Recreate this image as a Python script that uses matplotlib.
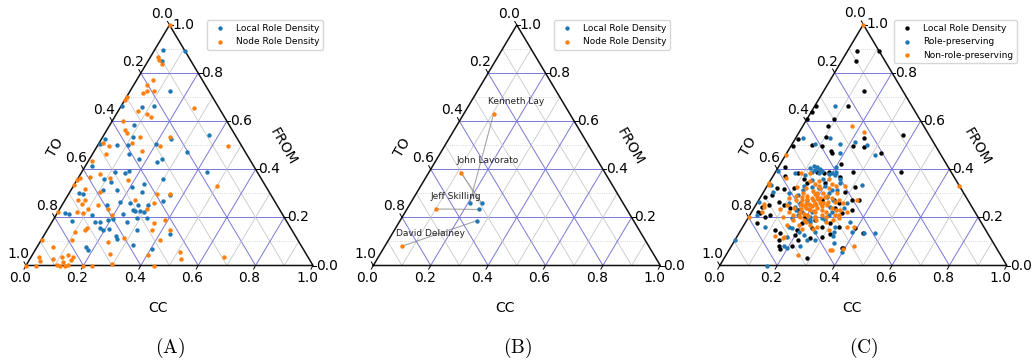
import numpy as np
import matplotlib.pyplot as plt

plt.rcParams['mathtext.fontset'] = 'cm'

BLUE = '#1f77b4'
ORANGE = '#ff7f0e'

# every row is (FROM, CC); TO = 1 - FROM - CC

# panel A
a_local = np.array([
    (.896, .030), (.851, .048), (.725, .139), (.657, .075), (.665, .114), (.6625, .002),
    (.583, .085), (.535, .106), (.524, .242), (.525, .013), (.500, .068), (.893, .107),
    (.543, .366), (.470, .325), (.390, .436), (.507, .006), (.504, .201), (.4625, .126),
    (.444, .173), (.431, .242), (.4125, .023), (.389, .115), (.386, .151), (.393, .161),
    (.361, .093), (.347, .121), (.340, .241), (.292, .356), (.301, .035), (.299, .050),
    (.3125, .113), (.3125, .160), (.326, .205), (.306, .252), (.250, .156), (.264, .196),
    (.260, .232), (.250, .266), (.229, .257), (.225, .268), (.225, .285), (.250, .301),
    (.218, .027), (.215, .042), (.185, .067), (.208, .125), (.181, .150), (.181, .168),
    (.1875, .193), (.192, .208), (.215, .232), (.181, .263), (.199, .286), (.222, .300),
    (.199, .323), (.157, .179), (.146, .196), (.153, .214), (.121, .253), (.111, .263),
    (.146, .313), (.132, .436), (.076, .171), (.0625, .186), (.069, .403), (.500, .107),
    (.444, .251), (.361, .298), (.268, .345), (.086, .329),
])
a_node = np.array([
    (1.0, 0.0), (.865, .028), (.854, .037), (.836, .055), (.771, .058), (.749, .048),
    (.725, .085), (.725, .058), (.718, .050), (.699, .003), (.6875, .002), (.643, .070),
    (.629, .106), (.618, .127), (.601, .037), (.5625, .063), (.553, .074), (.535, .130),
    (.535, .234), (.511, .014), (.655, .259), (.496, .457), (.332, .501), (.057, .509),
    (.025, .528), (.035, .672), (.496, .042), (.510, .113), (.465, .046), (.475, .168),
    (.435, .011), (.382, .067), (.368, .039), (.365, .006), (.365, .110), (.357, .178),
    (.333, 0.0), (.319, .046), (.306, .105), (.299, .306), (.274, .045), (.274, .069),
    (.257, .066), (.236, .099), (.250, .127), (.236, .169), (.271, .245), (.236, .302),
    (.222, .066), (.218, .088), (.208, .194), (.1875, .390), (.157, .133), (.146, .133),
    (.139, .101), (.104, .107), (.146, .365), (.146, .429), (.079, .055), (.097, .238),
    (.104, .415), (.018, .040), (.035, .107), (.042, .127), (.014, .123), (.004, .105),
    (0.0, .118), (0.0, .136), (.001, .147), (.035, .147), (0.0, .229), (.049, .268),
    (.007, .295), (.042, .405), (.108, .001), (.035, .029), (0.0, 0.0), (0.0, .035),
    (.222, 0.0), (0.0, .200), (.021, .145), (.115, .284), (0.0, .446), (.176, .358),
    (.497, .218), (.261, .316), (.296, .354), (.354, .002), (.028, .081),
])

# panel B
b_names = ['Kenneth Lay', 'John Lavorato', 'Jeff Skilling', 'David Delainey']
b_node = np.array([(.630, .104), (.384, .115), (.235, .102), (.080, .059)])
b_local = np.array([(.260, .206), (.259, .248), (.233, .253), (.187, .269)])

# panel C
c_local = np.array([
    (.892, .032), (.848, .049), (.724, .139), (.662, .116), (.662, .004), (.637, .002),
    (.607, .093), (.606, 0.0), (.578, .087), (.527, .238), (.535, .103), (.523, .010),
    (.888, .112), (.542, .367), (.468, .326), (.390, .438), (.497, .005), (.499, .071),
    (.476, .150), (.465, .160), (.495, .215), (.490, .256), (.371, .040), (.382, .081),
    (.389, .144), (.382, .171), (.389, .185), (.368, .236), (.320, .039), (.292, .035),
    (.316, .064), (.320, .097), (.357, .114), (.341, .133), (.341, .197), (.306, .284),
    (.327, .309), (.272, .348), (.244, .025), (.251, .045), (.265, .073), (.251, .097),
    (.237, .127), (.217, .033), (.200, .058), (.203, .197), (.237, .284), (.217, .318),
    (.230, .345), (.258, .287), (.175, .298), (.148, .119), (.134, .143), (.148, .195),
    (.127, .200), (.154, .244), (.161, .276), (.131, .320), (.161, .334), (.154, .395),
    (.079, .166), (.069, .176), (.079, .212), (.113, .259), (.120, .296), (.072, .390),
    (.497, .106), (.423, .211), (.386, .272), (.134, .431), (.072, .395), (.223, .022),
    (.178, .039), (.410, .022), (.175, .200), (.189, .238), (.286, .015), (.230, .159),
    (.272, .261), (.272, .220), (.030, .288), (.106, .152), (.210, .071), (.106, .221),
    (.272, .324),
])
c_pres = np.array([
    (.662, .071), (.531, .026), (.527, .121), (.459, .310), (.134, .473), (0.0, .166),
    (.106, 0.0), (.393, .007), (.334, .010), (.506, .080), (.503, .168), (.513, .216),
    (.499, .263), (.465, .186), (.412, .121), (.410, .133), (.396, .135), (.399, .150),
    (.389, .127), (.382, .153), (.393, .160), (.403, .114), (.382, .200), (.375, .215),
    (.343, .248), (.382, .072), (.375, .111), (.354, .144), (.306, .034), (.302, .091),
    (.313, .252), (.261, .109), (.244, .141), (.210, .024), (.196, .153), (.182, .224),
    (.189, .273), (.154, .174), (.137, .206), (.141, .262), (.141, .326), (.134, .434),
    (.081, .182), (.081, .240), (.106, .250), (.106, .280), (.092, .351), (.054, .399),
    (.223, .174), (.210, .169), (.210, .274), (.244, .263), (.286, .230), (.292, .128),
    (.313, .135), (.327, .157), (.320, .184), (.203, .231), (.196, .258), (.203, .213),
    (.189, .209), (.258, .151), (.313, .234), (.237, .313), (.258, .314), (.161, .322),
    (.127, .229), (.120, .174), (.161, .078), (.265, .003), (.182, .364), (.141, .390),
    (.334, .327), (.123, .334), (.072, .197), (.27, .17), (.22, .21), (.30, .23),
    (.23, .15), (.27, .26), (.33, .20), (.36, .18), (.36, .24), (.33, .13), (.22, .28),
    (.19, .22), (.16, .16), (.38, .19), (.39, .21), (.41, .20),
])
c_nonpres = np.array([
    (1.0, 0.0), (.579, .171), (.552, .226), (.331, .669), (.458, .001), (.343, 0.0),
    (.244, .033), (.200, 0.0), (.068, .396), (.065, .357), (.116, .163), (.161, .388),
    (.334, .003), (.255, .028), (.233, .094), (.327, .105), (.320, .140), (.123, .132),
    (.120, .162), (.148, .305), (.159, .364), (.065, .353), (.079, .427), (.044, .252),
    (.382, .093), (.382, .124), (.361, .050), (.265, .270), (.210, .295), (.196, .316),
    (.230, .305), (.223, .332), (.272, .342), (.223, .036),
    (.25, .19), (.26, .20), (.24, .18), (.25, .21), (.26, .17), (.23, .20), (.27, .19),
    (.24, .22), (.25, .16), (.28, .18), (.28, .21), (.26, .23), (.27, .15), (.21, .20),
    (.22, .17), (.22, .22), (.23, .24), (.30, .19), (.29, .16), (.30, .21), (.29, .23),
    (.25, .25), (.24, .14), (.20, .18), (.19, .20), (.20, .23), (.22, .26), (.21, .15),
    (.31, .17), (.32, .19), (.32, .22), (.27, .13), (.28, .25), (.24, .27), (.19, .24),
    (.18, .21), (.19, .16), (.33, .18), (.30, .14), (.30, .26), (.245, .20), (.255, .185),
    (.235, .195), (.245, .175), (.275, .205), (.265, .215), (.275, .165), (.255, .225),
    (.215, .185), (.285, .195), (.255, .155), (.245, .235), (.205, .205), (.205, .175),
    (.225, .215), (.265, .245), (.235, .165), (.285, .225), (.295, .185), (.285, .145),
    (.21, .25), (.27, .28), (.20, .27), (.29, .12), (.22, .13), (.23, .29), (.34, .22),
    (.35, .17), (.36, .20), (.33, .24), (.26, .30), (.18, .28), (.17, .23), (.17, .19),
    (.17, .15), (.25, .11), (.16, .26), (.21, .31), (.34, .16), (.15, .21), (.19, .30),
    (.15, .25), (.20, .12), (.28, .10), (.35, .14), (.33, .27),
])

ticks = [0.0, 0.2, 0.4, 0.6, 0.8, 1.0]
H = np.sqrt(3) / 2


def proj(frm, cc):
    frm = np.asarray(frm, float)
    cc = np.asarray(cc, float)
    return cc + frm / 2, frm * H


def draw_frame(ax):
    for k in range(1, 10):
        v = k / 10
        major = k % 2 == 0
        col = '#7878d8' if major else '#c8c8c8'
        lw = 0.7 if major else 0.6
        x, y = proj([v, v], [0, 1 - v])
        ax.plot(x, y, color=col, lw=lw, ls='-' if major else ':', zorder=1)
        x, y = proj([0, 1 - v], [v, v])
        ax.plot(x, y, color=col, lw=lw, zorder=1)
        x, y = proj([0, 1 - v], [1 - v, 0])
        ax.plot(x, y, color=col, lw=lw, zorder=1)
    x, y = proj([0, 0, 1, 0], [0, 1, 0, 0])
    ax.plot(x, y, color='#111111', lw=1.1, zorder=2, solid_joinstyle='miter')

    for v in ticks:
        lab = f'{v:.1f}'
        x, y = proj(0, v)
        ax.plot([x, x - 0.007], [y, y - 0.013], color='k', lw=0.7)
        ax.text(x - 0.021, y - 0.045, lab, ha='center', va='center', fontsize=10)
        x, y = proj(v, 1 - v)
        ax.plot([x, x + 0.012], [y, y], color='k', lw=0.7)
        ax.text(x + 0.01, y, lab, ha='left', va='center', fontsize=10)
        x, y = proj(1 - v, 0)
        ax.plot([x, x - 0.007], [y, y + 0.013], color='k', lw=0.7)
        ax.text(x - 0.027, y + 0.040, lab, ha='center', va='center', fontsize=10)

    ax.text(0.46, -0.152, 'CC', ha='center', va='center', fontsize=10)
    ax.text(0.101, 0.426, 'TO', ha='center', va='center', fontsize=10, rotation=60)
    ax.text(0.896, 0.427, 'FROM', ha='center', va='center', fontsize=10, rotation=-60)


def dots(ax, data, color, label):
    x, y = proj(data[:, 0], data[:, 1])
    ax.scatter(x, y, s=10, color=color, linewidths=0, label=label, zorder=3, clip_on=False)


fig = plt.figure(figsize=(10.32, 3.6), dpi=100)
origins = [26.0, 373.3, 719.8]
tops = [25.0, 25.0, 24.5]
base = 265.5
legend_right = [323, 670, 1017]
panel_names = ['A', 'B', 'C']
axes = []
for i in range(3):
    ax = fig.add_axes([i * 344 / 1032, 0, 344 / 1032, 1])
    sx = 287.0
    sy = (base - tops[i]) / H
    ax.set_xlim((344 * i - origins[i]) / sx, (344 * (i + 1) - origins[i]) / sx)
    ax.set_ylim(-(360 - base) / sy, base / sy)
    ax.axis('off')
    draw_frame(ax)
    axes.append(ax)
    fig.text((origins[i] + 144) / 1032, 12 / 360, r'$\mathrm{(' + panel_names[i] + ')}$',
             ha='center', va='center', fontsize=14)

ax = axes[0]
dots(ax, a_local, BLUE, 'Local Role Density')
dots(ax, a_node, ORANGE, 'Node Role Density')

ax = axes[1]
for n, l in zip(b_node, b_local):
    x, y = proj([n[0], l[0]], [n[1], l[1]])
    ax.plot(x, y, color='gray', lw=0.8, alpha=0.7, zorder=2)
dots(ax, b_local, BLUE, 'Local Role Density')
dots(ax, b_node, ORANGE, 'Node Role Density')
for name, n in zip(b_names, b_node):
    x, y = proj(n[0], n[1])
    ax.annotate(name, xy=(x, y), xytext=(-3.9, 9), textcoords='offset points',
                fontsize=6.5, ha='left', va='center', color='#222222')

ax = axes[2]
dots(ax, c_local, 'black', 'Local Role Density')
dots(ax, c_pres, BLUE, 'Role-preserving')
dots(ax, c_nonpres, ORANGE, 'Non-role-preserving')

for i, ax in enumerate(axes):
    ax.legend(loc='upper right', bbox_to_anchor=(legend_right[i] / 1032, 1 - 20 / 360),
              bbox_transform=fig.transFigure, borderaxespad=0, fontsize=6.5,
              scatterpoints=1)

fig.savefig('out.png', dpi=100)
